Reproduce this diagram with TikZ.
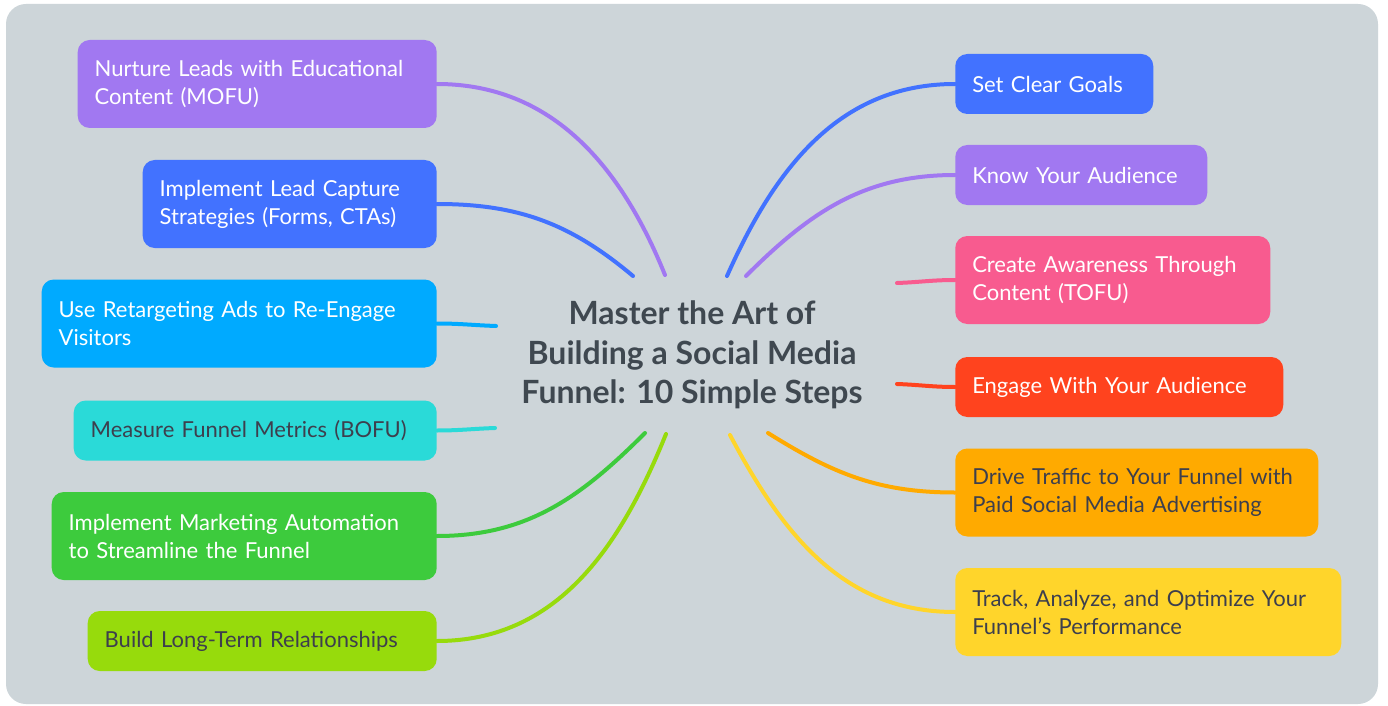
\documentclass[tikz,border=0pt]{standalone}
\usepackage{fontspec}
\setmainfont{Lato}
\usetikzlibrary{positioning}

\definecolor{panel}{HTML}{CDD5D9}
\definecolor{ink}{HTML}{3F4850}
\definecolor{darktext}{HTML}{3D3F4D}
\definecolor{cpurple}{HTML}{A178F1}
\definecolor{cblue}{HTML}{4272FF}
\definecolor{csky}{HTML}{00AAFF}
\definecolor{ccyan}{HTML}{2ADAD8}
\definecolor{cgreen}{HTML}{3DCB3D}
\definecolor{clime}{HTML}{97DB0C}
\definecolor{cpink}{HTML}{F85B8F}
\definecolor{cred}{HTML}{FF431E}
\definecolor{corange}{HTML}{FFAA00}
\definecolor{cyellow}{HTML}{FFD52B}

\tikzset{
  branch/.style={rounded corners=9pt, inner xsep=12.75pt, inner ysep=6pt,
    align=left, text=white, font=\fontsize{16.5}{21}\selectfont},
  onerow/.style={minimum height=45pt},
  tworow/.style={minimum height=66pt},
  darkrow/.style={text=darktext},
  link/.style={line width=3pt, line cap=round},
  title/.style={align=center, text=ink, font=\fontsize{24}{29.5}\selectfont\bfseries}
}

\begin{document}
\begin{tikzpicture}[x=0.75pt, y=0.75pt]
  \useasboundingbox (0,0) rectangle (1388,-706);
  \fill[white] (0,0) rectangle (1388,-706);
  \fill[panel, rounded corners=15pt] (6,-4) rectangle (1378,-704);

  % central topic
  \node[title] (center) at (692,-355) {Master the Art of\\Building a Social Media\\Funnel: 10 Simple Steps};

  % left branches
  \node[branch, tworow, fill=cpurple, text width=243.75pt, anchor=east] (nurture) at (437,-84) {Nurture Leads with Educational\\Content (MOFU)};
  \node[branch, tworow, fill=cblue, text width=195pt, anchor=east] (capture) at (437,-204) {Implement Lead Capture\\Strategies (Forms, CTAs)};
  \node[branch, tworow, fill=csky, text width=270.75pt, anchor=east] (retarget) at (437,-323.5) {Use Retargeting Ads to Re-Engage\\Visitors};
  \node[branch, onerow, darkrow, fill=ccyan, text width=246.75pt, anchor=east] (measure) at (437,-430.5) {Measure Funnel Metrics (BOFU)};
  \node[branch, tworow, fill=cgreen, text width=263.25pt, anchor=east] (automate) at (437,-536) {Implement Marketing Automation\\to Streamline the Funnel};
  \node[branch, onerow, darkrow, fill=clime, text width=236.25pt, anchor=east] (relation) at (437,-641) {Build Long-Term Relationships};

  % right branches
  \node[branch, onerow, fill=cblue, text width=123pt, anchor=west] (goals) at (955,-84) {Set Clear Goals};
  \node[branch, onerow, fill=cpurple, text width=163.5pt, anchor=west] (audience) at (955,-175) {Know Your Audience};
  \node[branch, tworow, fill=cpink, text width=210.75pt, anchor=west] (awareness) at (955,-280) {Create Awareness Through\\Content (TOFU)};
  \node[branch, onerow, fill=cred, text width=220.5pt, anchor=west] (engage) at (955,-387) {Engage With Your Audience};
  \node[branch, tworow, darkrow, fill=corange, text width=246.75pt, anchor=west] (traffic) at (955,-492.5) {Drive Traffic to Your Funnel with\\Paid Social Media Advertising};
  \node[branch, tworow, darkrow, fill=cyellow, text width=264pt, anchor=west] (track) at (955,-612) {Track, Analyze, and Optimize Your\\Funnel's Performance};

  % free ends round the central topic
  \coordinate (e-nurture) at (665,-275);
  \coordinate (e-capture) at (633,-276);
  \coordinate (e-retarget) at (496,-326);
  \coordinate (e-measure) at (495,-428);
  \coordinate (e-automate) at (645,-433);
  \coordinate (e-relation) at (666,-434);
  \coordinate (e-goals) at (727,-276);
  \coordinate (e-audience) at (746,-276);
  \coordinate (e-awareness) at (897,-283);
  \coordinate (e-engage) at (897,-384);
  \coordinate (e-traffic) at (768,-433);
  \coordinate (e-track) at (730,-435);

  \draw[link, cpurple] (e-nurture) to[out=112, in=0] (nurture.east);
  \draw[link, cblue] (e-capture) to[out=140, in=0] (capture.east);
  \draw[link, csky] (e-retarget) to[out=178, in=0] (retarget.east);
  \draw[link, ccyan] (e-measure) to[out=182, in=0] (measure.east);
  \draw[link, cgreen] (e-automate) to[out=-135, in=0] (automate.east);
  \draw[link, clime] (e-relation) to[out=-112, in=0] (relation.east);

  \draw[link, cblue] (e-goals) to[out=66, in=180] (goals.west);
  \draw[link, cpurple] (e-audience) to[out=45, in=180] (audience.west);
  \draw[link, cpink] (e-awareness) to[out=2, in=180] (awareness.west);
  \draw[link, cred] (e-engage) to[out=-2, in=180] (engage.west);
  \draw[link, corange] (e-traffic) to[out=-32, in=180] (traffic.west);
  \draw[link, cyellow] (e-track) to[out=-62, in=180] (track.west);
\end{tikzpicture}
\end{document}
